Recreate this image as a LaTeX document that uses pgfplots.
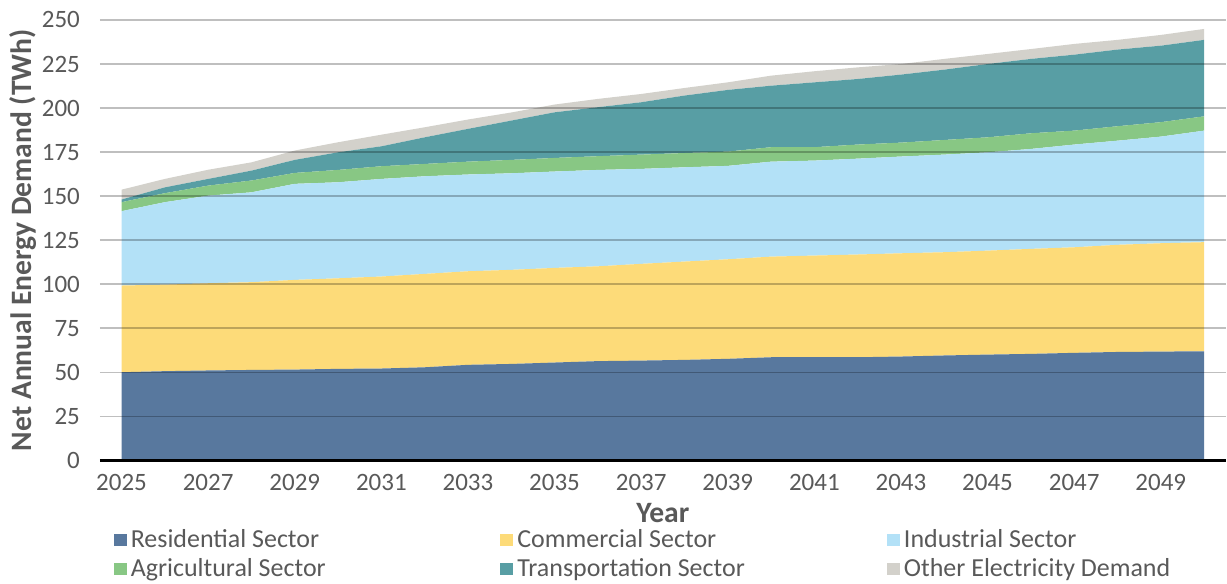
\documentclass[border=0pt]{standalone}
\usepackage{fontspec}
\setmainfont{Carlito}
\usepackage{pgfplots}
\usepackage{pgfplotstable}
\pgfplotsset{compat=1.18}
\definecolor{cres}{HTML}{58789E}
\definecolor{ccom}{HTML}{FDDB79}
\definecolor{cind}{HTML}{B3E1F7}
\definecolor{cagr}{HTML}{88C784}
\definecolor{ctra}{HTML}{589EA4}
\definecolor{coth}{HTML}{D3D1CB}
\definecolor{txt}{HTML}{595959}
\pgfplotstableread{
year res com ind agr tra oth
2025 50.1 49.2 42.2 5.1 1.5 5.6
2026 50.7 49.1 46.8 5.1 3.3 4.8
2027 51.1 49.5 49.7 5.7 3.8 5.2
2028 51.4 49.8 51.0 6.7 5.6 4.7
2029 51.6 50.9 54.5 6.2 7.4 5.3
2030 52.0 51.4 54.5 7.0 10.0 5.7
2031 52.2 52.2 55.4 7.2 11.3 6.6
2032 52.9 53.0 55.4 7.0 15.1 5.7
2033 54.3 53.1 54.9 7.3 18.6 5.3
2034 54.8 53.4 54.8 7.6 22.3 4.6
2035 55.6 53.7 54.7 7.7 25.9 4.4
2036 56.4 53.8 54.7 7.8 27.8 4.7
2037 56.7 54.9 53.9 8.1 29.7 4.7
2038 57.1 55.8 53.5 8.1 32.6 4.3
2039 57.7 56.5 53.0 8.1 35.0 4.3
2040 58.6 57.1 53.9 8.2 34.9 5.7
2041 58.6 57.7 53.9 7.6 36.8 6.3
2042 58.6 58.3 54.4 8.0 37.2 6.6
2043 59.0 58.6 54.9 7.9 38.6 6.0
2044 59.6 58.6 55.4 8.3 39.9 6.1
2045 60.1 59.0 55.8 8.5 41.6 5.7
2046 60.5 59.6 56.7 8.9 42.2 5.6
2047 61.1 59.9 58.3 7.9 43.1 6.1
2048 61.6 60.8 59.1 8.2 43.5 5.5
2049 61.8 61.5 60.5 8.2 43.4 6.1
2050 62.0 61.9 63.3 8.1 43.4 6.2
}\demand
\begin{document}
\begin{tikzpicture}
\begin{axis}[name=ax,
  scale only axis, width=563.5pt, height=220.5pt,
  xmin=2024.5, xmax=2050.5, ymin=0, ymax=250,
  xtick={2025,2027,...,2049}, ytick={0,25,...,250},
  xticklabel style={/pgf/number format/1000 sep={}, yshift=-3.5pt},
  yticklabel style={xshift=-6.5pt},
  /pgf/number format/assume math mode=true,
  ticklabel style={font=\fontsize{12.5}{14}\selectfont, text=txt},
  major tick length=0pt,
  axis line style={draw=none},
  ymajorgrids, major grid style={black, opacity=0.25, line width=0.9pt},
  extra y ticks={0}, extra y tick labels={},
  extra y tick style={major grid style={black, opacity=1, line width=1.3pt}},
  axis on top,
  stack plots=y,
  xlabel={Year}, ylabel={Net Annual Energy Demand (TWh)},
  label style={font=\bfseries\fontsize{14.8}{16}\selectfont, text=txt},
  xlabel style={yshift=0.8pt},
  ylabel style={yshift=-4pt},
  legend columns=3,
  legend style={at={(0.012,-0.146)}, anchor=north west, draw=none, fill=none,
    inner sep=0pt, row sep=0pt, column sep=0pt,
    font=\fontsize{13}{14}\selectfont, text=txt},
  legend cell align=left,
  legend image code/.code={\fill[#1, draw=none] (0pt,-3pt) rectangle (6.5pt,3pt);},
]
\addplot[fill=cres, draw=none] table[x=year,y=res]{\demand} \closedcycle;
\addlegendentry{\makebox[183pt][l]{Residential Sector}}
\addplot[fill=ccom, draw=none] table[x=year,y=com]{\demand} \closedcycle;
\addlegendentry{\makebox[183pt][l]{Commercial Sector}}
\addplot[fill=cind, draw=none] table[x=year,y=ind]{\demand} \closedcycle;
\addlegendentry{\makebox[130pt][l]{Industrial Sector}}
\addplot[fill=cagr, draw=none] table[x=year,y=agr]{\demand} \closedcycle;
\addlegendentry{\makebox[183pt][l]{Agricultural Sector}}
\addplot[fill=ctra, draw=none] table[x=year,y=tra]{\demand} \closedcycle;
\addlegendentry{\makebox[183pt][l]{Transportation Sector}}
\addplot[fill=coth, draw=none] table[x=year,y=oth]{\demand} \closedcycle;
\addlegendentry{\makebox[130pt][l]{Other Electricity Demand}}
\end{axis}
\path ([shift={(-50pt,-61pt)}]ax.south west) rectangle ([shift={(0pt,10pt)}]ax.north east);
\end{tikzpicture}
\end{document}
